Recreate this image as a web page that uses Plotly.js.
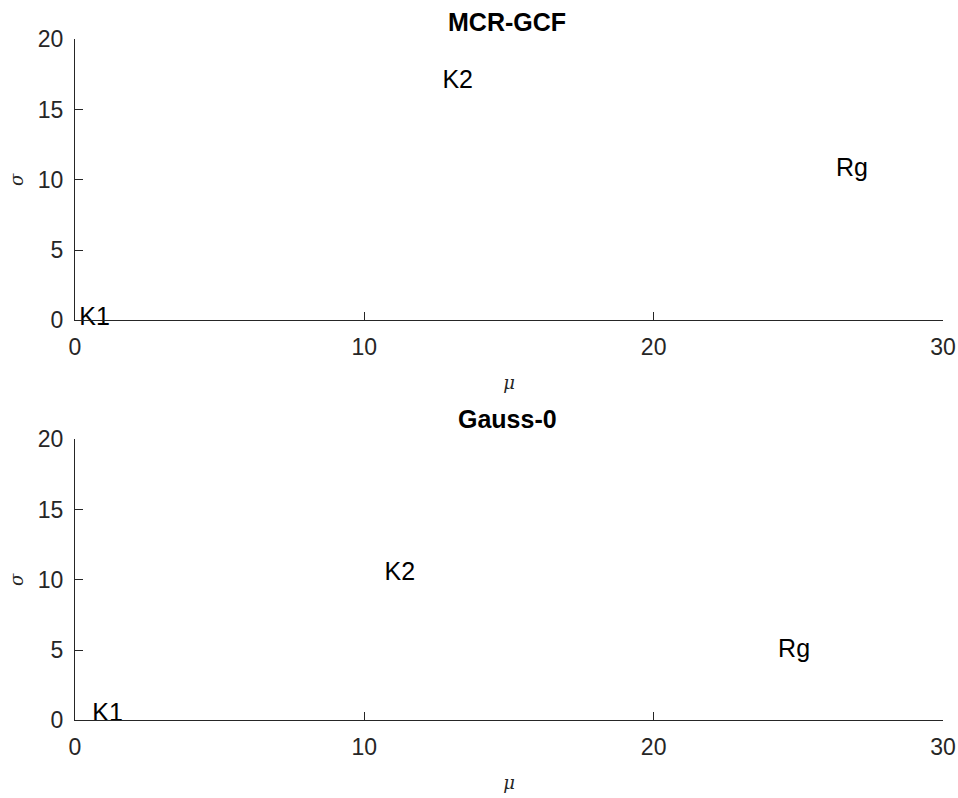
<!DOCTYPE html>
<html>
<head>
<meta charset="utf-8">
<script src="https://cdn.plot.ly/plotly-3.0.1.min.js"></script>
<style>html,body{margin:0;padding:0;background:#fff;}#chart{width:958px;height:798px;}</style>
</head>
<body>
<div id="chart"></div>
<script>
// Data
const componentLabels = ['K1', 'K2', 'Rg'];
const mcrMu = [0.15, 12.7, 26.3];
const mcrSigma = [0.1, 17.0, 10.7];
const gaussMu = [0.6, 10.7, 24.3];
const gaussSigma = [0.4, 10.45, 4.93];
const panelTitles = ['MCR-GCF', 'Gauss-0'];
const xTicks = [0, 10, 20, 30];
const yTicks = [0, 5, 10, 15, 20];

const textFont = {family: 'Liberation Sans, Arial, sans-serif', size: 25, color: '#000000'};
function labelTrace(mu, sigma, xa, ya) {
  return {
    type: 'scatter', mode: 'text', x: mu, y: sigma, text: componentLabels,
    textposition: 'middle right', textfont: textFont, cliponaxis: false,
    xaxis: xa, yaxis: ya, hoverinfo: 'skip', showlegend: false
  };
}
const data = [
  labelTrace(mcrMu, mcrSigma, 'x', 'y'),
  labelTrace(gaussMu, gaussSigma, 'x2', 'y2')
];

const axisColor = '#262626';
const tickFont = {family: 'Liberation Sans, Arial, sans-serif', size: 23, color: axisColor};
const axisTitleFont = {family: 'DejaVu Serif, serif', size: 18, color: axisColor};
function xAxis(anchor) {
  return {
    domain: [75/958, 943/958], anchor: anchor, range: [0, 30],
    tickvals: xTicks, ticktext: xTicks.map(String),
    showline: true, linecolor: axisColor, linewidth: 1,
    ticks: 'inside', ticklen: 8, tickcolor: axisColor, tickwidth: 1,
    ticklabelstandoff: 6,
    showgrid: false, zeroline: false, tickfont: tickFont,
    title: {text: '<i>μ</i>', font: axisTitleFont, standoff: 17}
  };
}
function yAxis(domain, anchor) {
  return {
    domain: domain, anchor: anchor, range: [0, 20],
    tickvals: yTicks, ticktext: yTicks.map(String),
    showline: true, linecolor: axisColor, linewidth: 1,
    ticks: 'inside', ticklen: 8, tickcolor: axisColor, tickwidth: 1,
    ticklabelstandoff: 6,
    showgrid: false, zeroline: false, tickfont: tickFont,
    title: {text: '<i>σ</i>', font: axisTitleFont, standoff: 9}
  };
}

const H = 798;
const titleFont = {family: 'Liberation Sans, Arial, sans-serif', size: 25, color: '#000000'};
const layout = {
  width: 958, height: 798,
  margin: {l: 0, r: 0, t: 0, b: 0},
  paper_bgcolor: '#ffffff', plot_bgcolor: '#ffffff',
  showlegend: false,
  xaxis: xAxis('y'),
  yaxis: yAxis([1 - 320.3/H, 1 - 39.3/H], 'x'),
  xaxis2: xAxis('y2'),
  yaxis2: yAxis([1 - 720.3/H, 1 - 439.3/H], 'x2'),
  annotations: [
    {text: '<b>' + panelTitles[0] + '</b>', x: 507/958, y: 1 - 22/H, xref: 'paper', yref: 'paper',
     showarrow: false, xanchor: 'center', yanchor: 'middle', font: titleFont},
    {text: '<b>' + panelTitles[1] + '</b>', x: 507/958, y: 1 - 419/H, xref: 'paper', yref: 'paper',
     showarrow: false, xanchor: 'center', yanchor: 'middle', font: titleFont}
  ]
};

Plotly.newPlot('chart', data, layout, {staticPlot: true, displayModeBar: false});
</script>
</body>
</html>
